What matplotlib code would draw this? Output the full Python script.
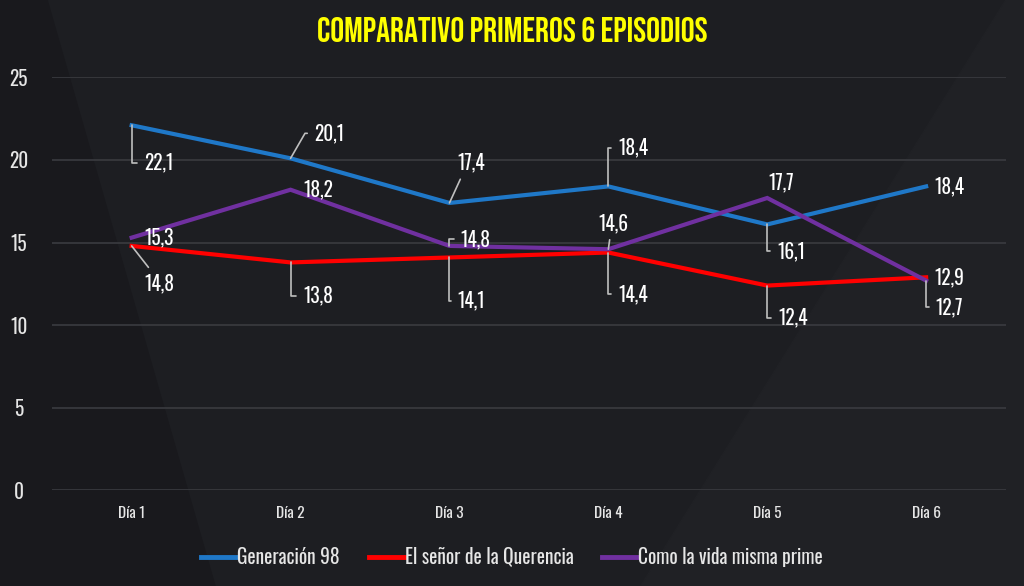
import matplotlib
matplotlib.use('Agg')
import matplotlib.pyplot as plt
import numpy as np

plt.rcParams['font.family'] = ['Oswald', 'DejaVu Sans']
plt.rcParams['axes.unicode_minus'] = False

dias = ['Día 1', 'Día 2', 'Día 3', 'Día 4', 'Día 5', 'Día 6']
generacion = [22.1, 20.1, 17.4, 18.4, 16.1, 18.4]
senor = [14.8, 13.8, 14.1, 14.4, 12.4, 12.9]
como_vida = [15.3, 18.2, 14.8, 14.6, 17.7, 12.7]
nombres = ['Generación 98', 'El señor de la Querencia', 'Como la vida misma prime']
colores = ['#1f78c8', '#ff0000', '#7030a0']

V = 'angle,angleA=0,angleB=90,rad=0'
D = 'angle,angleA=0,angleB=60,rad=0'
# label offsets (points), leader connection, relpos on text
off_gen = [(9, -27, V, (0, 0.5)), (17, 18, D, (0, 0.5)), (6, 29, 'arc3', (0.2, 0)),
           (7, 28, V, (0, 0.5)), (7, -19, V, (0, 0.5)), (6, 0, None, None)]
off_sen = [(9, -27, 'arc3', (0.3, 1)), (9, -24, V, (0, 0.5)), (6, -31, V, (0, 0.5)),
           (7, -30, V, (0, 0.5)), (8, -23, V, (0, 0.5)), (6, 0, None, None)]
off_como = [(9, 0, None, None), (9, 0, None, None), (8, 5, V, (0, 0.5)),
            (-7, 19, 'arc3', (0.4, 0)), (1, 11, None, None), (7, -19, V, (0, 0.5))]

bg = '#1d1e22'
fig = plt.figure(figsize=(10.24, 5.86), dpi=100, facecolor=bg)
ax = fig.add_axes([0.051, 0.163, 0.931, 0.705], facecolor='none')

# subtle diagonal shading of the backdrop
fig.patches.append(plt.Polygon([[0.0, 0.0], [0.21, 0.0], [0.046, 1.0], [0.0, 1.0]],
                               transform=fig.transFigure, color='#19191d', zorder=-1))
fig.patches.append(plt.Polygon([[0.625, 0.0], [1.0, 0.0], [1.0, 1.0], [0.981, 1.0]],
                               transform=fig.transFigure, color='#202125', zorder=-1))

x = np.arange(len(dias))
for serie, c, nom in zip([generacion, senor, como_vida], colores, nombres):
    ax.plot(x, serie, color=c, lw=3, label=nom, solid_joinstyle='miter', zorder=3)

def etiquetas(serie, offs):
    for i, (v, (dx, dy, cs, rp)) in enumerate(zip(serie, offs)):
        txt = f'{v:.1f}'.replace('.', ',')
        kw = dict(textcoords='offset points', color='white', fontsize=14,
                  fontweight='semibold', va='center', ha='left', zorder=4)
        if cs is None:
            ax.annotate(txt, (i, v), xytext=(dx, dy), **kw)
        else:
            ax.annotate(txt, (i, v), xytext=(dx, dy), **kw,
                        arrowprops=dict(arrowstyle='-', color='#bfbfbf', lw=1.2,
                                        connectionstyle=cs, shrinkA=3, shrinkB=0,
                                        relpos=rp))

etiquetas(generacion, off_gen)
etiquetas(senor, off_sen)
etiquetas(como_vida, off_como)

ax.set_xlim(-0.5, 5.5)
ax.set_ylim(0, 25)
ax.set_yticks([0, 5, 10, 15, 20, 25])
ax.set_xticks(x)
ax.set_xticklabels(dias)
ax.grid(axis='y', color='#3a3b40', lw=1.2)
ax.set_axisbelow(True)
for s in ax.spines.values():
    s.set_visible(False)
ax.tick_params(length=0, colors='#e6e6e6')
for lb in ax.get_yticklabels():
    lb.set_fontsize(14)
    lb.set_fontweight('semibold')
    lb.set_horizontalalignment('center')
for lb in ax.get_xticklabels():
    lb.set_fontsize(11)
    lb.set_fontweight('semibold')
ax.tick_params(axis='y', pad=24)
ax.tick_params(axis='x', pad=11)

fig.text(0.5, 0.949, 'COMPARATIVO PRIMEROS 6 EPISODIOS', color='#ffff00',
         fontsize=25, ha='center', va='center', family=['Bebas Neue', 'DejaVu Sans'])

leg = fig.legend(loc='center', bbox_to_anchor=(0.5, 0.05), ncol=3, frameon=False,
                 fontsize=14, handlelength=1.8, handletextpad=0.05, columnspacing=1.5)
for t in leg.get_texts():
    t.set_color('#e6e6e6')
for h in leg.get_lines():
    h.set_linewidth(3.5)

fig.savefig('out.png', dpi=100, facecolor=bg)
